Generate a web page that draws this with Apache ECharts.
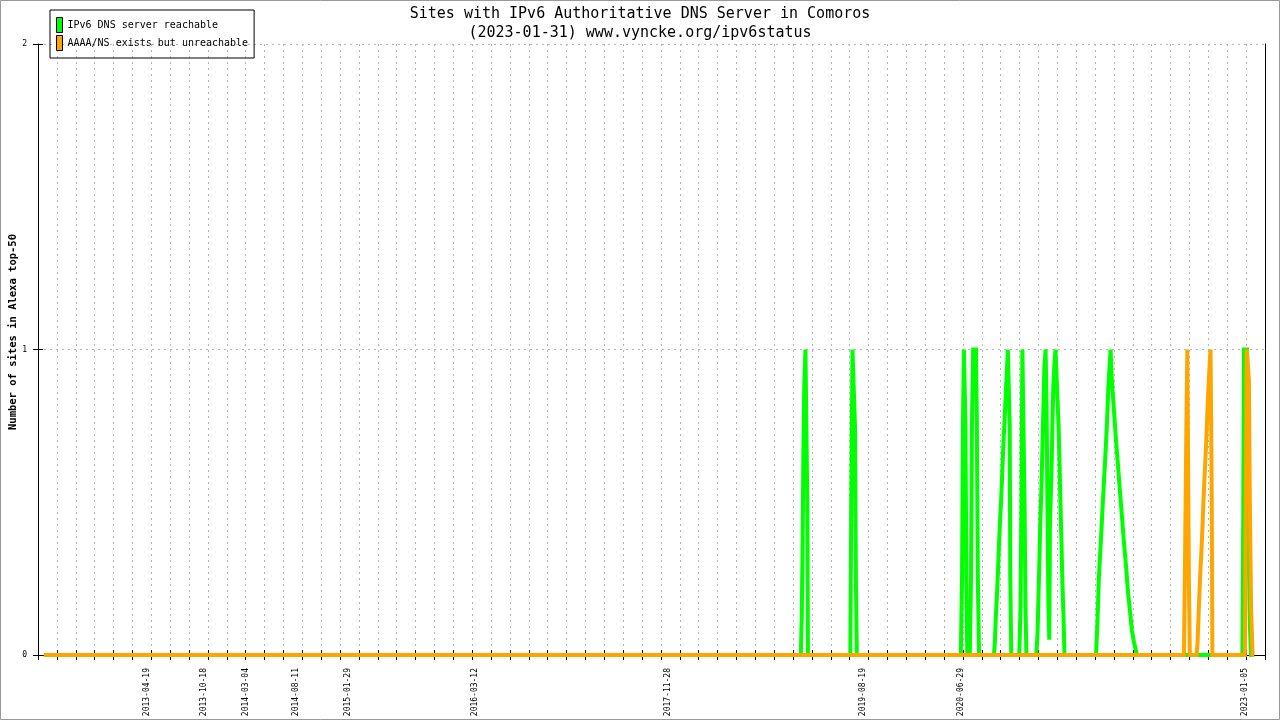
<!DOCTYPE html>
<html>
<head>
<meta charset="utf-8">
<script src="https://cdn.jsdelivr.net/npm/echarts@6/dist/echarts.min.js"></script>
<style>
html,body{margin:0;padding:0;background:#fff;}
#chart{width:1280px;height:720px;}
</style>
</head>
<body>
<div id="chart"></div>
<script>
// ---------- data ----------
const titleText = 'Sites with IPv6 Authoritative DNS Server in Comoros';
const subtitleText = '(2023-01-31) www.vyncke.org/ipv6status';
const yAxisTitle = 'Number of sites in Alexa top-50';
const seriesNames = ['IPv6 DNS server reachable', 'AAAA/NS exists but unreachable'];

const xTickLabels = ['2013-04-19','2013-10-18','2014-03-04','2014-08-11','2015-01-29',
  '2016-03-12','2017-11-28','2019-08-19','2020-06-29','2023-01-05'];
const xAxisStart = '2012-04-18';
const xAxisEnd = '2023-02-25';
const xTickAnchor = '2013-04-19';
const xTickStepDays = 61;

const greenDates = ['2012-05-07',
 '2019-01-17','2019-01-20','2019-01-23','2019-01-25','2019-01-28','2019-02-01','2019-02-04','2019-02-07','2019-02-09',
 '2019-06-26','2019-06-29','2019-07-03','2019-07-07','2019-07-11','2019-07-14','2019-07-17',
 '2020-06-17','2020-06-21','2020-06-24','2020-06-27','2020-07-02','2020-07-05','2020-07-08',
 '2020-07-16','2020-07-20','2020-07-23','2020-07-27','2020-08-05','2020-08-08','2020-08-11','2020-08-15',
 '2020-10-02','2020-10-05','2020-10-08','2020-10-12','2020-10-15','2020-10-18','2020-10-21','2020-10-25','2020-10-28','2020-10-31','2020-11-03','2020-11-07','2020-11-10','2020-11-13','2020-11-16','2020-11-20','2020-11-22','2020-11-24','2020-11-27',
 '2020-12-23','2020-12-27','2020-12-30','2021-01-02','2021-01-07','2021-01-09','2021-01-12','2021-01-15',
 '2021-02-16','2021-02-20','2021-02-23','2021-02-26','2021-03-01','2021-03-05','2021-03-08','2021-03-11','2021-03-14','2021-03-18','2021-03-21','2021-03-24','2021-03-27','2021-03-30','2021-04-01','2021-04-06','2021-04-09','2021-04-12','2021-04-16','2021-04-19','2021-04-25','2021-04-29','2021-05-02','2021-05-05','2021-05-08','2021-05-11','2021-05-15','2021-05-18',
 '2021-08-28','2021-09-02','2021-09-06','2021-09-13','2021-09-19','2021-09-26','2021-10-02','2021-10-07','2021-10-14','2021-10-18','2021-10-25','2021-10-31','2021-11-07','2021-11-13','2021-11-20','2021-11-26','2021-12-03','2021-12-09','2021-12-16','2021-12-22','2021-12-29','2022-01-07',
 '2022-12-14','2022-12-17','2022-12-19','2022-12-29','2023-01-01','2023-01-04','2023-01-07','2023-01-11',
 '2023-01-21'];
const greenValues = [0,
 0,0.125,0.375,0.625,0.875,1,1,0.5,0,
 0,0.5,1,1,0.75,0.25,0,
 0,0.25,0.75,1,0.75,0.25,0,
 0,0.25,0.75,1,1,0.75,0.25,0,
 0,0.04,0.12,0.2,0.27,0.35,0.42,0.5,0.57,0.65,0.72,0.8,0.87,0.93,1,1,0.75,0.25,0,
 0,0.16,0.5,1,1,0.5,0.16,0,
 0,0.07,0.19,0.31,0.44,0.56,0.69,0.81,0.94,1,0.83,0.5,0.17,0.05,0.42,0.6,0.75,0.88,0.96,1,1,0.75,0.63,0.5,0.38,0.25,0.12,0,
 0,0.12,0.25,0.38,0.5,0.63,0.75,0.88,1,0.9,0.8,0.71,0.62,0.54,0.45,0.37,0.29,0.21,0.14,0.08,0.04,0,
 0,0.5,1,1,0.8,0.3,0.1,0,
 0];

const orangeDates = ['2012-05-07',
 '2022-06-08','2022-06-11','2022-06-16','2022-06-19','2022-06-22','2022-06-24','2022-06-27',
 '2022-07-19','2022-07-22','2022-07-25','2022-07-28','2022-07-31','2022-08-04','2022-08-07','2022-08-10','2022-08-13','2022-08-17','2022-08-20','2022-08-23','2022-08-26','2022-08-30','2022-09-02','2022-09-04','2022-09-06','2022-09-08',
 '2022-12-22','2022-12-25','2022-12-28','2023-01-01','2023-01-04','2023-01-07','2023-01-11','2023-01-16',
 '2023-01-21'];
const orangeValues = [0,
 0,0.25,0.75,1,1,0.25,0,
 0,0.04,0.12,0.2,0.27,0.35,0.42,0.5,0.57,0.65,0.72,0.8,0.87,0.95,1,1,0.5,0,
 0,0.5,1,1,0.9,0.5,0.15,0,
 0];

// ---------- helpers ----------
const DAY = 86400000;
function ts(s){ const p = s.split('-').map(Number); return Date.UTC(p[0], p[1]-1, p[2]); }
function fmt(v){ const d = new Date(v); const p = n => (n<10?'0':'')+n;
  return d.getUTCFullYear()+'-'+p(d.getUTCMonth()+1)+'-'+p(d.getUTCDate()); }
function zip(dates, vals){ return dates.map((d,i)=>[ts(d), vals[i]]); }

const xMin = ts(xAxisStart), xMax = ts(xAxisEnd), anchor = ts(xTickAnchor);
const tickValues = [];
for (let t = anchor; t >= xMin; t -= xTickStepDays*DAY) tickValues.unshift(t);
for (let t = anchor + xTickStepDays*DAY; t <= xMax; t += xTickStepDays*DAY) tickValues.push(t);
const labelValues = xTickLabels.map(ts);

const MONO = 'DejaVu Sans Mono';
const GRID_DASH = { color: '#b4b4b4', width: 1, type: [2, 4] };
const TITLE_STYLE = { fontFamily: MONO, fontSize: 15, fontWeight: 'normal', color: '#000' };

const chart = echarts.init(document.getElementById('chart'), null, { renderer: 'canvas' });
chart.setOption({
  animation: false,
  backgroundColor: '#ffffff',
  title: [
    { text: titleText, left: 'center', top: 7, padding: 0, textStyle: TITLE_STYLE },
    { text: subtitleText, left: 'center', top: 26, padding: 0, textStyle: TITLE_STYLE }
  ],
  legend: {
    data: seriesNames,
    orient: 'vertical', left: 50, top: 10,
    padding: [7, 6, 7, 6],
    itemWidth: 6, itemHeight: 15, itemGap: 2,
    icon: 'rect',
    borderColor: '#000', borderWidth: 1,
    itemStyle: { borderColor: '#000', borderWidth: 1 },
    textStyle: { fontFamily: MONO, fontSize: 10, color: '#000' }
  },
  grid: { left: 38, right: 15, top: 44, bottom: 65, containLabel: false, outerBoundsMode: 'none' },
  xAxis: [{
    type: 'value', min: xMin, max: xMax, position: 'bottom',
    axisLine: { show: true, onZero: false, lineStyle: { color: '#000', width: 1 } },
    axisTick: { show: true, inside: false, length: 5, customValues: tickValues, lineStyle: { color: '#000' } },
    axisLabel: { show: true, customValues: labelValues, rotate: 90, margin: 13,
      fontFamily: MONO, fontSize: 8, color: '#000', verticalAlign: 'bottom',
      formatter: v => fmt(v) },
    splitLine: { show: true, lineStyle: GRID_DASH }
  }, {
    type: 'value', min: xMin, max: xMax, position: 'bottom',
    axisLine: { show: false },
    axisTick: { show: true, inside: true, length: 5, customValues: tickValues, lineStyle: { color: '#000' } },
    axisLabel: { show: false },
    splitLine: { show: false }
  }],
  yAxis: [{
    type: 'value', min: 0, max: 2, interval: 1, position: 'left',
    axisLine: { show: true, lineStyle: { color: '#000', width: 1 } },
    axisTick: { show: true, inside: false, length: 5, lineStyle: { color: '#000' } },
    axisLabel: { show: true, margin: 11, fontFamily: MONO, fontSize: 8, color: '#000' },
    splitLine: { show: true, lineStyle: GRID_DASH }
  }, {
    type: 'value', min: 0, max: 2, interval: 1, position: 'left',
    axisLine: { show: false },
    axisTick: { show: true, inside: true, length: 5, lineStyle: { color: '#000' } },
    axisLabel: { show: false },
    splitLine: { show: false }
  }, {
    type: 'value', min: 0, max: 2, interval: 1, position: 'right',
    axisLine: { show: true, lineStyle: { color: '#000', width: 1 } },
    axisTick: { show: false }, axisLabel: { show: false }, splitLine: { show: false }
  }],
  graphic: [{
    type: 'rect', silent: true, z: 100,
    shape: { x: 0.5, y: 0.5, width: 1279, height: 719 },
    style: { fill: null, stroke: '#9a9a9a', lineWidth: 1 }
  }, {
    type: 'text', silent: true, z: 100,
    x: 13, y: 332, rotation: Math.PI / 2,
    style: { text: yAxisTitle, fill: '#000', font: 'bold 10.5px "DejaVu Sans Mono"',
      align: 'center', verticalAlign: 'middle' }
  }],
  series: [{
    name: seriesNames[0], type: 'line', xAxisIndex: 0, yAxisIndex: 0,
    data: zip(greenDates, greenValues),
    showSymbol: false, symbol: 'none', z: 3,
    color: '#00ff00',
    lineStyle: { color: '#00ff00', width: 4, join: 'miter' }
  }, {
    name: seriesNames[1], type: 'line', xAxisIndex: 0, yAxisIndex: 0,
    data: zip(orangeDates, orangeValues),
    showSymbol: false, symbol: 'none', z: 4,
    color: '#ffa500',
    lineStyle: { color: '#ffa500', width: 4, join: 'miter' }
  }]
});
</script>
</body>
</html>
